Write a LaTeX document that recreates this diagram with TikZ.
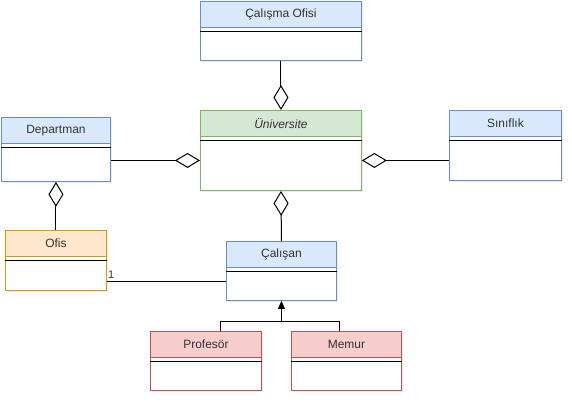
\documentclass[tikz,border=0pt]{standalone}
\usepackage{fontspec}
\setmainfont{Liberation Sans}
\usepackage{xcolor}
\usepackage{tikz}
\usetikzlibrary{positioning, arrows.meta, shadows}
\definecolor{fg}{HTML}{333333}
\definecolor{blueFill}{HTML}{DAE8FC}
\definecolor{blueLine}{HTML}{6C8EBF}
\definecolor{greenFill}{HTML}{D5E8D4}
\definecolor{greenLine}{HTML}{82B366}
\definecolor{orangeFill}{HTML}{FFE6CC}
\definecolor{orangeLine}{HTML}{D79B00}
\definecolor{redFill}{HTML}{F8CECC}
\definecolor{redLine}{HTML}{B85450}

\tikzset{
  classbox/.style={draw=#1Line, fill=white, line width=0.9pt, inner sep=0pt,
    anchor=north west, drop shadow={opacity=0.15, shadow xshift=1.5pt, shadow yshift=-1.5pt}},
  classhead/.style={draw=#1Line, fill=#1Fill, line width=0.9pt, inner sep=0pt,
    minimum height=26pt, anchor=north, text=fg, font=\fontsize{12}{14}\selectfont},
  aggr/.style={line width=1pt, -{Diamond[open, length=25pt, width=15pt]}},
  inherit/.style={line width=1pt, -{Triangle[length=8pt, width=7pt]}},
}

% name, x, y, width, height, colour, title
\newcommand{\umlclass}[7]{%
  \node[classbox=#6, minimum width=#4pt, minimum height=#5pt] (#1) at (#2,#3) {};
  \node[classhead=#6, minimum width=#4pt] (#1-h) at (#1.north) {#7};
  \draw[line width=0.9pt] ([yshift=-4pt]#1-h.south west) -- ([yshift=-4pt]#1-h.south east);
}

\begin{document}
\begin{tikzpicture}[x=1pt, y=-1pt]
  \useasboundingbox (0,0) rectangle (572,402);

  \umlclass{cofis}{200}{1}{161}{59}{blue}{Çalışma Ofisi}
  \umlclass{uni}{200}{110}{161}{80}{green}{\textit{Üniversite}}
  \umlclass{dep}{1}{117}{109}{64}{blue}{Departman}
  \umlclass{sin}{449}{110}{112}{70}{blue}{Sınıflık}
  \umlclass{ofis}{5}{230}{101}{60}{orange}{Ofis}
  \umlclass{cal}{226}{241}{110}{59}{blue}{Çalışan}
  \umlclass{prof}{150}{331}{111}{59}{red}{Profesör}
  \umlclass{mem}{291}{331}{110}{59}{red}{Memur}

  \coordinate (uni-l) at ([yshift=-10pt]uni.west);
  \coordinate (uni-r) at ([yshift=-10pt]uni.east);
  \coordinate (cal-l) at ([yshift=-11pt]cal.west);
  \coordinate (join) at ([yshift=-21pt]cal.south);

  % aggregations
  \draw[aggr] (cofis.south) -- (uni.north);
  \draw[aggr] (cal.north) -- (uni.south);
  \draw[aggr] (dep.east |- uni-l) -- (uni-l);
  \draw[aggr] (sin.west |- uni-r) -- (uni-r);
  \draw[aggr] (ofis.north) -- (dep.south);

  % association
  \draw[line width=1pt] (ofis.east |- cal-l) -- (cal-l);
  \node[font=\fontsize{11}{13}\selectfont, text=fg, fill=white, inner sep=1pt,
        anchor=south west, yshift=2pt] (one) at (ofis.east |- cal-l) {1};

  % inheritance
  \draw[line width=1pt] ([xshift=15pt]prof.north) |- (join);
  \draw[line width=1pt] ([xshift=-7pt]mem.north) |- (join);
  \draw[inherit] (join) -- (cal.south);
\end{tikzpicture}
\end{document}
